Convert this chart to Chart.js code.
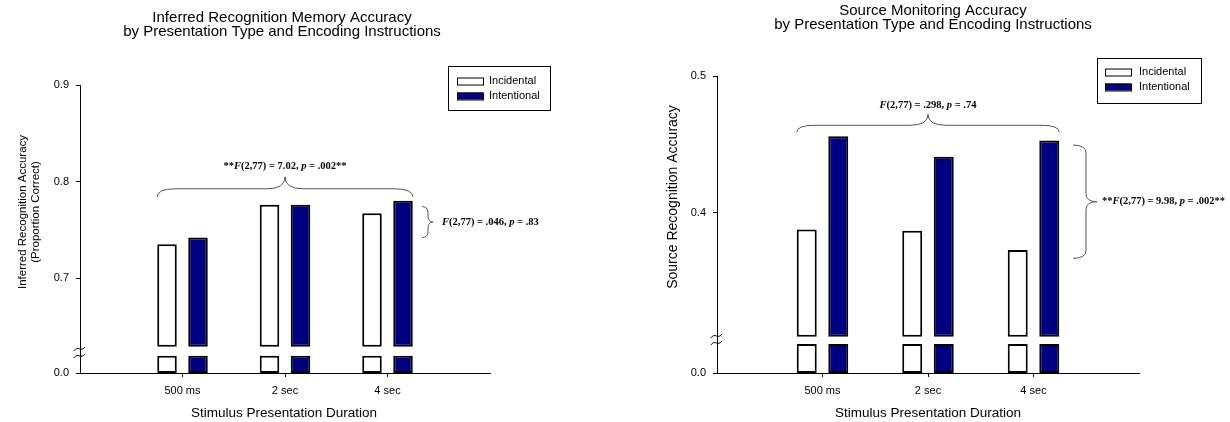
<!DOCTYPE html>
<html>
<head>
<meta charset="utf-8">
<title>Recognition and Source Monitoring Accuracy</title>
<script src="https://cdn.jsdelivr.net/npm/chart.js@4.4.1/dist/chart.umd.min.js"></script>
<style>
  html, body { margin: 0; padding: 0; background: #fff; }
  #wrap { position: relative; width: 1230px; height: 422px; overflow: hidden; }
  .panel { position: absolute; top: 0; width: 615px; height: 422px; }
  #recogPanel { left: 0; }
  #sourcePanel { left: 615px; }
</style>
</head>
<body>
<div id="wrap">
  <div class="panel" id="recogPanel"><canvas id="recogChart" width="615" height="422"></canvas></div>
  <div class="panel" id="sourcePanel"><canvas id="sourceChart" width="615" height="422"></canvas></div>
</div>
<script>
// Data
const categories = ['500 ms', '2 sec', '4 sec'];

const recogIncidental = [0.735, 0.776, 0.767];
const recogIntentional = [0.742, 0.776, 0.780];
const recogTicks = [0.7, 0.8, 0.9];

const sourceIncidental = [0.388, 0.387, 0.373];
const sourceIntentional = [0.456, 0.441, 0.453];
const sourceTicks = [0.4, 0.5];

const SANS = "'Liberation Sans', Arial, sans-serif";
const SERIF = "'Liberation Serif', 'Times New Roman', serif";
const NAVY = '#000080';

Chart.defaults.font.family = SANS;
Chart.defaults.color = '#000';

function drawMixed(ctx, parts, x, y, align) {
    // parts: [text, italic]
    const size = 10.5;
    const fontFor = it => `${it ? 'italic ' : ''}bold ${size}px ${SERIF}`;
    let total = 0;
    parts.forEach(([t, it]) => { ctx.font = fontFor(it); total += ctx.measureText(t).width; });
    let cx = align === 'center' ? x - total / 2 : x;
    ctx.textAlign = 'left';
    ctx.textBaseline = 'middle';
    parts.forEach(([t, it]) => {
        ctx.font = fontFor(it);
        ctx.fillText(t, cx, y);
        cx += ctx.measureText(t).width;
    });
}

function hBrace(ctx, x1, x2, yEnd, yTip, xTip) {
    const yMid = (yEnd + yTip) / 2 + 2;
    const r = 18;
    ctx.beginPath();
    ctx.moveTo(x1, yEnd);
    ctx.quadraticCurveTo(x1, yMid, x1 + r, yMid);
    ctx.lineTo(xTip - r, yMid);
    ctx.quadraticCurveTo(xTip, yMid, xTip, yTip);
    ctx.quadraticCurveTo(xTip, yMid, xTip + r, yMid);
    ctx.lineTo(x2 - r, yMid);
    ctx.quadraticCurveTo(x2, yMid, x2, yEnd);
    ctx.stroke();
}

function vBrace(ctx, xEnd, xSpine, xTip, y1, y2, yTip) {
    const r = Math.min(8, (y2 - y1) / 5);
    ctx.beginPath();
    ctx.moveTo(xEnd, y1);
    ctx.quadraticCurveTo(xSpine, y1, xSpine, y1 + r);
    ctx.lineTo(xSpine, yTip - r);
    ctx.quadraticCurveTo(xSpine, yTip, xTip, yTip);
    ctx.quadraticCurveTo(xSpine, yTip, xSpine, yTip + r);
    ctx.lineTo(xSpine, y2 - r);
    ctx.quadraticCurveTo(xSpine, y2, xEnd, y2);
    ctx.stroke();
}

function decorPlugin(setup) {
    return {
        id: 'decor',
        afterDraw(chart) {
            const ctx = chart.ctx;
            const area = chart.chartArea;
            const yScale = chart.scales.y;
            ctx.save();
            ctx.fillStyle = '#000';

            // Title
            ctx.font = `15px ${SANS}`;
            ctx.textAlign = 'center';
            ctx.textBaseline = 'middle';
            setup.title.forEach((line, i) => ctx.fillText(line, setup.titleX, setup.titleY[i]));

            // X axis title
            ctx.font = `13.5px ${SANS}`;
            ctx.fillText('Stimulus Presentation Duration', setup.xTitleX, 413);

            // Y axis title
            ctx.font = `${setup.yTitleSize}px ${SANS}`;
            setup.yTitle.forEach((line, i) => {
                ctx.save();
                ctx.translate(setup.yTitleX[i], setup.yTitleY);
                ctx.rotate(-Math.PI / 2);
                ctx.fillText(line, 0, 0);
                ctx.restore();
            });

            // Axis break marks
            const by = yScale.getPixelForValue(setup.breakAt);
            ctx.strokeStyle = '#000';
            ctx.lineWidth = 1;
            [-3.5, 3.5].forEach(d => {
                const y = by + d;
                ctx.beginPath();
                ctx.moveTo(area.left - 6, y + 2);
                ctx.bezierCurveTo(area.left - 2, y - 4, area.left + 1, y + 4, area.left + 5, y - 2);
                ctx.stroke();
            });

            // Legend
            const lg = setup.legend;
            ctx.lineWidth = 1;
            ctx.strokeStyle = '#000';
            ctx.strokeRect(lg.x + 0.5, lg.y + 0.5, lg.w, lg.h);
            [['Incidental', '#fff'], ['Intentional', NAVY]].forEach(([name, fill], i) => {
                const sy = lg.rowY[i] - 3.5;
                ctx.fillStyle = fill;
                ctx.fillRect(lg.swatchX, sy, 26, 7);
                ctx.strokeRect(lg.swatchX + 0.5, sy + 0.5, 26, 7);
                ctx.fillStyle = '#000';
                ctx.font = `11px ${SANS}`;
                ctx.textAlign = 'left';
                ctx.textBaseline = 'middle';
                ctx.fillText(name, lg.textX, lg.rowY[i]);
            });

            // Brace over all groups
            const incMeta = chart.getDatasetMeta(0);
            const intMeta = chart.getDatasetMeta(1);
            const first = incMeta.data[1];
            const last = intMeta.data[categories.length];
            let topY = Infinity;
            [incMeta, intMeta].forEach(m => m.data.forEach(el => {
                if (el && !isNaN(el.y)) topY = Math.min(topY, el.y);
            }));
            const tn = setup.topNote;
            const yEnd = topY - 4;
            const yTip = yEnd - tn.rise;
            const xTip = chart.scales.x.getPixelForValue(2);
            ctx.strokeStyle = '#555';
            hBrace(ctx, first.x - first.width / 2, last.x + last.width / 2, yEnd, yTip, xTip);
            ctx.fillStyle = '#000';
            drawMixed(ctx, tn.parts, xTip, yTip - tn.textGap, 'center');

            // Side brace
            const sn = setup.sideNote;
            const y1 = yScale.getPixelForValue(sn.from);
            const y2 = yScale.getPixelForValue(sn.to);
            const yMidB = (y1 + y2) / 2;
            ctx.strokeStyle = '#555';
            vBrace(ctx, sn.xEnd, sn.xSpine, sn.xTip, y1, y2, yMidB);
            drawMixed(ctx, sn.parts, sn.textX, yMidB, 'left');

            ctx.restore();
        }
    };
}

function buildChart(canvasId, setup) {
    const labels = ['', ...categories, ''];
    const pad = arr => [null, ...arr, null];
    const upper = vals => pad(vals.map(v => [setup.barBase, v]));
    const stub = vals => pad(vals.map(() => [setup.yMin, setup.stubTop]));
    const barStyle = (fill, stack) => ({
        stack: stack,
        backgroundColor: fill,
        borderColor: '#000',
        borderWidth: 2,
        borderSkipped: false,
        barPercentage: setup.barPct,
        categoryPercentage: setup.catPct
    });
    const area = setup.area;

    return new Chart(document.getElementById(canvasId), {
        type: 'bar',
        data: {
            labels: labels,
            datasets: [
                { label: 'Incidental', data: upper(setup.incidental), ...barStyle('#fff', 'inc') },
                { label: 'Intentional', data: upper(setup.intentional), ...barStyle(NAVY, 'int') },
                { label: 'Incidental (below break)', data: stub(setup.incidental), ...barStyle('#fff', 'inc') },
                { label: 'Intentional (below break)', data: stub(setup.intentional), ...barStyle(NAVY, 'int') }
            ]
        },
        options: {
            responsive: false,
            animation: false,
            layout: { padding: { left: 0, top: area.top, right: 615 - area.right, bottom: 0 } },
            plugins: { legend: { display: false }, title: { display: false }, tooltip: { enabled: false } },
            scales: {
                x: {
                    type: 'category',
                    offset: false,
                    afterFit: s => { s.height = 422 - area.bottom; },
                    ticks: { color: '#000', font: { size: 11 }, padding: 7, autoSkip: false, maxRotation: 0 },
                    grid: {
                        drawOnChartArea: false,
                        offset: false,
                        tickLength: 4,
                        tickColor: c => (c.tick && c.tick.label) ? '#000' : 'rgba(0,0,0,0)'
                    },
                    border: { color: '#000', width: 1 }
                },
                y: {
                    type: 'linear',
                    min: setup.yMin,
                    max: setup.yMax,
                    stacked: false,
                    afterFit: s => { s.width = area.left; },
                    afterBuildTicks: s => { s.ticks = [setup.yMin, ...setup.tickValues].map(v => ({ value: v })); },
                    ticks: {
                        color: '#000',
                        font: { size: 11 },
                        padding: 7,
                        autoSkip: false,
                        callback: v => v === setup.yMin ? '0.0' : Number(v).toFixed(1)
                    },
                    grid: { drawOnChartArea: false, tickLength: 4, tickColor: '#000' },
                    border: { color: '#000', width: 1 }
                }
            }
        },
        plugins: [decorPlugin(setup)]
    });
}

buildChart('recogChart', {
    incidental: recogIncidental,
    intentional: recogIntentional,
    tickValues: recogTicks,
    yMin: 0.6016, yMax: 0.9,
    stubTop: 0.6195, barBase: 0.6288, breakAt: 0.623,
    area: { left: 80, top: 85, right: 490, bottom: 373 },
    barPct: 0.63, catPct: 0.605,
    title: ['Inferred Recognition Memory Accuracy', 'by Presentation Type and Encoding Instructions'],
    titleX: 282, titleY: [18, 32],
    xTitleX: 284,
    yTitle: ['Inferred Recognition Accuracy', '(Proportion Correct)'],
    yTitleX: [23, 36], yTitleY: 212, yTitleSize: 11.5,
    legend: { x: 448, y: 66, w: 102, h: 44, rowY: [81, 96], swatchX: 457, textX: 489 },
    topNote: {
        parts: [['**', false], ['F', true], ['(2,77) = 7.02, ', false], ['p', true], [' = .002**', false]],
        rise: 20, textGap: 11
    },
    sideNote: {
        parts: [['F', true], ['(2,77) = .046, ', false], ['p', true], [' = .83', false]],
        from: 0.774, to: 0.742, xEnd: 422, xSpine: 428, xTip: 433, textX: 442
    }
});

buildChart('sourceChart', {
    incidental: sourceIncidental,
    intentional: sourceIntentional,
    tickValues: sourceTicks,
    yMin: 0.2832, yMax: 0.5,
    stubTop: 0.3044, barBase: 0.3097, breakAt: 0.3077,
    area: { left: 102, top: 76, right: 524, bottom: 373 },
    barPct: 0.633, catPct: 0.598,
    title: ['Source Monitoring Accuracy', 'by Presentation Type and Encoding Instructions'],
    titleX: 318, titleY: [11, 24.5],
    xTitleX: 313,
    yTitle: ['Source Recognition Accuracy'],
    yTitleX: [58], yTitleY: 197, yTitleSize: 14,
    legend: { x: 482, y: 58, w: 104, h: 45, rowY: [72, 87], swatchX: 490, textX: 524 },
    topNote: {
        parts: [['F', true], ['(2,77) = .298, ', false], ['p', true], [' = .74', false]],
        rise: 18, textGap: 9
    },
    sideNote: {
        parts: [['**', false], ['F', true], ['(2,77) = 9.98, ', false], ['p', true], [' = .002**', false]],
        from: 0.4496, to: 0.3669, xEnd: 458, xSpine: 471, xTip: 482, textX: 487
    }
});
</script>
</body>
</html>
